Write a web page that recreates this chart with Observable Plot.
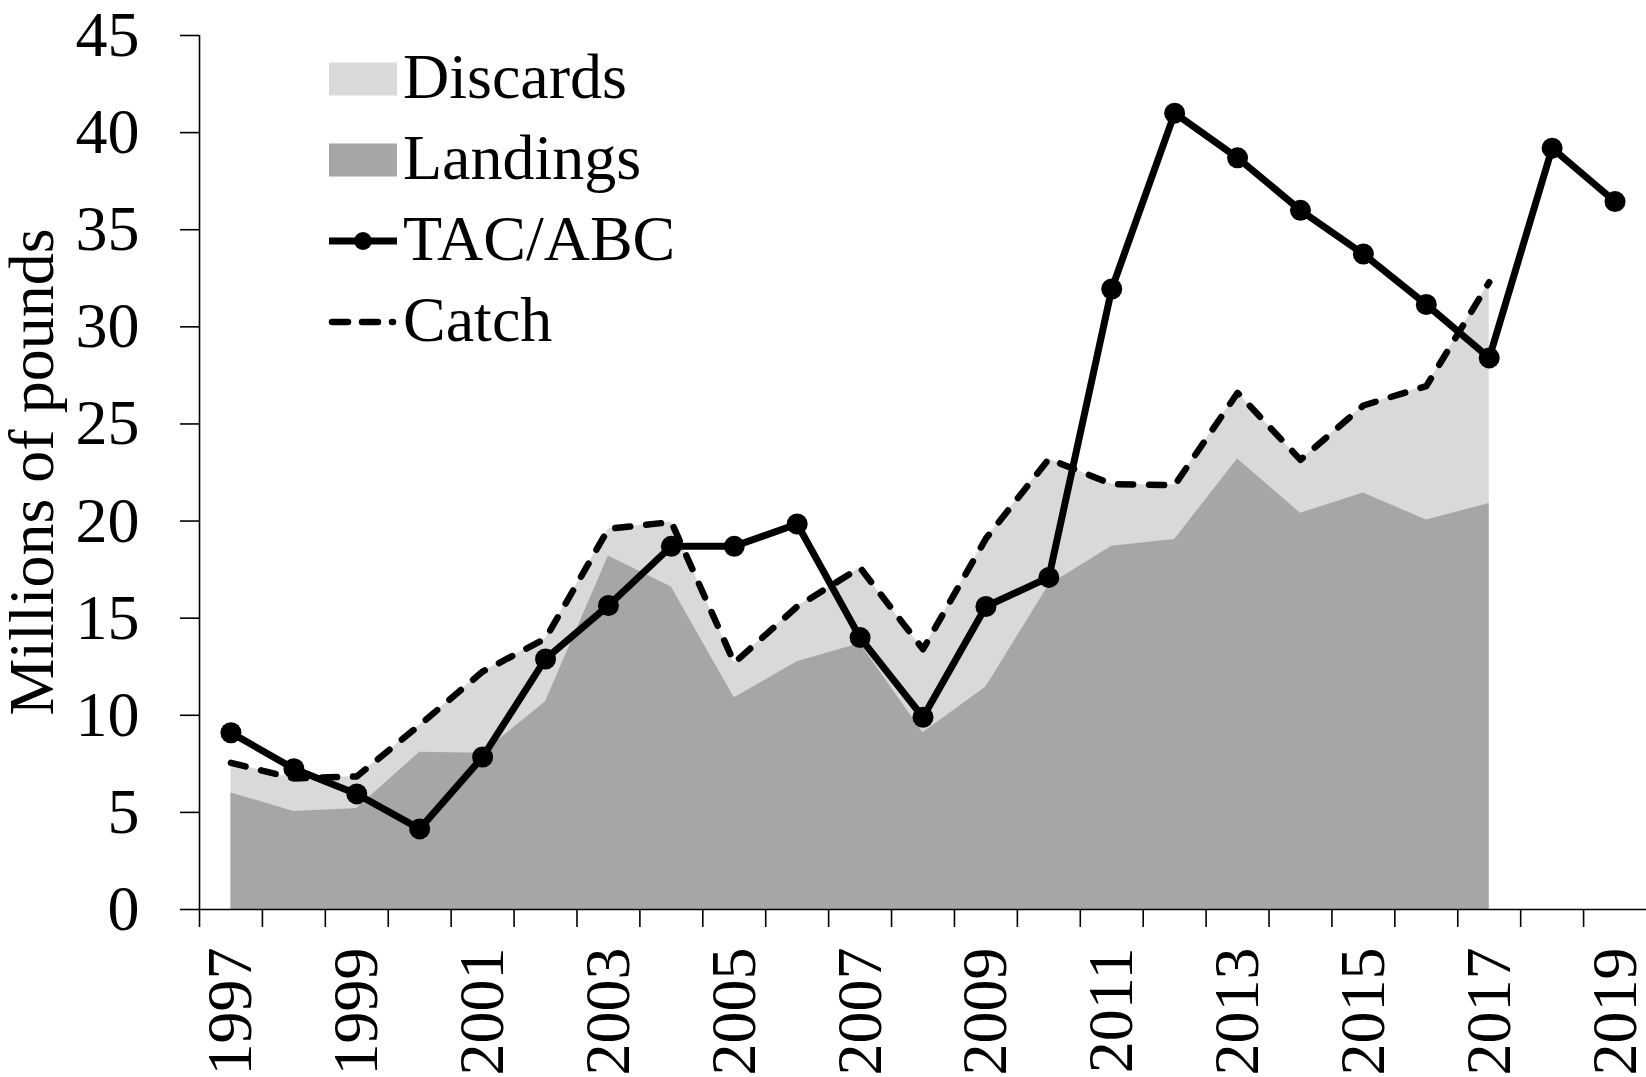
<!DOCTYPE html>
<html>
<head>
<meta charset="utf-8">
<script src="https://cdn.jsdelivr.net/npm/d3@7"></script>
<script src="https://cdn.jsdelivr.net/npm/@observablehq/plot@0.6"></script>
<style>
  html, body { margin: 0; padding: 0; background: #fff; overflow: hidden; }
  #chart svg { display: block; }
</style>
</head>
<body>
<div id="chart"></div>
<script>
// ---- Data ----
const years = [1997, 1998, 1999, 2000, 2001, 2002, 2003, 2004, 2005, 2006, 2007, 2008,
               2009, 2010, 2011, 2012, 2013, 2014, 2015, 2016, 2017, 2018, 2019];
// TAC/ABC (millions of pounds), 1997-2019
const tacAbc = [9.1, 7.25, 5.95, 4.15, 7.85, 12.9, 15.65, 18.7, 18.7, 19.85, 14.0, 9.9,
                15.6, 17.1, 31.95, 41.0, 38.7, 36.0, 33.75, 31.15, 28.4, 39.2, 36.45];
// Landings, 1997-2017
const landings = [6.0, 5.05, 5.2, 8.1, 8.05, 10.7, 18.2, 16.6, 10.9, 12.75, 13.7, 9.1,
                  11.45, 16.7, 18.7, 19.05, 23.2, 20.4, 21.45, 20.05, 20.9];
// Discards, 1997-2017
const discards = [1.55, 1.7, 1.65, 1.4, 4.2, 3.25, 1.4, 3.35, 1.8, 2.85, 3.9, 4.3,
                  7.65, 6.5, 3.2, 2.8, 3.4, 2.75, 4.5, 6.9, 11.4];
const yTicks = [0, 5, 10, 15, 20, 25, 30, 35, 40, 45];
const xLabelYears = [1997, 1999, 2001, 2003, 2005, 2007, 2009, 2011, 2013, 2015, 2017, 2019];
const seriesNames = ["Discards", "Landings", "TAC/ABC", "Catch"];
const yTitle = "Millions of pounds";

// ---- Tables built from the arrays ----
const tacRows = years.map((year, i) => ({year, value: tacAbc[i]}));
const stockRows = landings.map((v, i) => ({
  year: years[i], landings: v, discards: discards[i], catch: v + discards[i]
}));
// category boundaries (tick marks sit between years)
const boundaries = years.map(y => y - 0.5);

const FONT = "'Liberation Serif', 'Times New Roman', Times, serif";
const LIGHT = "#d9d9d9", DARK = "#a6a6a6";
const LW = 7;      // TAC/ABC line width
const DW = 6.5;    // Catch dashed line width
const DASH = "15,16";

const chart = Plot.plot({
  width: 1646,
  height: 1077,
  marginLeft: 199,
  marginRight: 0,
  marginTop: 35,
  marginBottom: 168,
  style: {fontFamily: FONT, fontSize: "64px", background: "#fff", color: "#000", overflow: "visible"},
  x: {type: "linear", domain: [years[0] - 0.5, years[years.length - 1] + 0.5], axis: null},
  y: {domain: [0, 45], axis: null},
  marks: [
    Plot.areaY(stockRows, {x: "year", y1: 0, y2: "catch", fill: LIGHT, curve: "linear"}),
    Plot.areaY(stockRows, {x: "year", y1: 0, y2: "landings", fill: DARK, curve: "linear"}),
    Plot.ruleY([0], {stroke: "#000", strokeWidth: 1.6}),
    Plot.ruleX([years[0] - 0.5], {stroke: "#000", strokeWidth: 1.6}),
    Plot.axisY(yTicks, {
      anchor: "left", tickSize: 19, tickPadding: 41, strokeWidth: 1.6,
      fontSize: 64, tickFormat: d => String(d), label: null
    }),
    Plot.axisX(boundaries, {
      anchor: "bottom", tickSize: 18, strokeWidth: 1.6, tickFormat: () => "", label: null
    }),
    Plot.text(xLabelYears, {
      x: d => d, text: d => String(d), frameAnchor: "bottom",
      rotate: -90, textAnchor: "end", lineAnchor: "middle", dy: 38, fontSize: 64, fill: "#000"
    }),
    Plot.line(stockRows, {
      x: "year", y: "catch", stroke: "#000", strokeWidth: DW,
      strokeDasharray: DASH, strokeLinecap: "round", strokeLinejoin: "round"
    }),
    Plot.line(tacRows, {x: "year", y: "value", stroke: "#000", strokeWidth: LW, strokeLinejoin: "round"}),
    Plot.dot(tacRows, {x: "year", y: "value", r: 10.5, fill: "#000", stroke: "none"})
  ]
});

document.getElementById("chart").appendChild(chart);

// ---- Y title and legend (overlaid on the plot, as in the reference) ----
const svg = d3.select(chart);
svg.append("text")
  .attr("transform", "translate(53,472) rotate(-90)")
  .attr("text-anchor", "middle")
  .attr("font-family", FONT)
  .attr("font-size", 64)
  .attr("fill", "#000")
  .text(yTitle);

const lg = svg.append("g")
  .attr("font-family", FONT).attr("font-size", 64).attr("fill", "#000")
  .attr("text-anchor", "start");
const rowY = [79, 160, 241, 322];   // legend row centres
const sx0 = 329, sx1 = 397, tx = 403;
// Discards / Landings swatches
[LIGHT, DARK].forEach((c, i) => {
  lg.append("rect").attr("x", sx0).attr("y", rowY[i] - 16.5).attr("width", sx1 - sx0).attr("height", 33).attr("fill", c);
});
// TAC/ABC
lg.append("line").attr("x1", sx0).attr("x2", sx1).attr("y1", rowY[2]).attr("y2", rowY[2])
  .attr("stroke", "#000").attr("stroke-width", LW);
lg.append("circle").attr("cx", (sx0 + sx1) / 2).attr("cy", rowY[2]).attr("r", 9).attr("fill", "#000");
// Catch ("- - ·")
lg.append("line").attr("x1", sx0 + 3).attr("x2", sx1 - 4).attr("y1", rowY[3]).attr("y2", rowY[3])
  .attr("stroke", "#000").attr("stroke-width", DW).attr("stroke-dasharray", "16,14").attr("stroke-linecap", "round");
seriesNames.forEach((name, i) => {
  lg.append("text").attr("x", tx).attr("y", rowY[i] + 19).attr("text-anchor", "start").text(name);
});
</script>
</body>
</html>
